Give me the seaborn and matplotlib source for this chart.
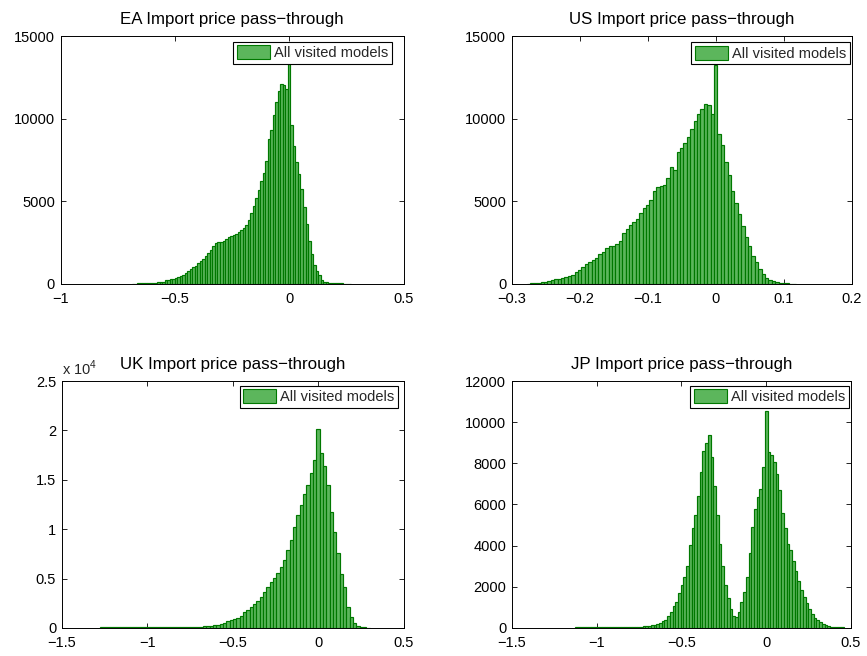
import numpy as np
import pandas as pd
import matplotlib
matplotlib.use("Agg")
import matplotlib.pyplot as plt
import seaborn as sns
from matplotlib.patches import Patch
from matplotlib.ticker import FuncFormatter

# ---------------- data (histogram bin counts) ----------------
titles = ["EA Import price pass\u2212through", "US Import price pass\u2212through",
          "UK Import price pass\u2212through", "JP Import price pass\u2212through"]
legend_label = "All visited models"

ea_first, ea_width = -0.682, 0.011
ea_counts = [20, 25, 30, 35, 40, 45, 50, 55, 65, 75,
             95, 115, 150, 220, 250, 280, 310, 340, 420, 480,
             560, 640, 760, 880, 1000, 1100, 1250, 1380, 1500, 1700,
             1900, 2060, 2300, 2460, 2520, 2540, 2600, 2750, 2870, 2920,
             2980, 3050, 3170, 3250, 3370, 3550, 3900, 4300, 4700, 5200,
             5700, 6200, 6700, 7450, 8800, 9300, 10200, 11000, 11700, 12100,
             12050, 11800,
             13300,
             9600, 8350, 7400, 6650, 5750, 4650, 3650, 2600, 1800, 1150,
             780, 540, 260, 140, 90, 70, 55, 45, 40, 35,
             30, 25, 20, 15]

us_first, us_width = -0.275, 0.005
us_counts = [20, 30, 40, 70, 110, 150, 210, 270, 300, 320,
             380, 440, 480, 560, 700, 850, 1050, 1200, 1330, 1480,
             1600, 1800, 1950, 2200, 2280, 2270, 2400, 2600, 3100, 3300,
             3550, 3750, 3950, 4300, 4600, 4800, 5050, 5600, 5850, 5900,
             6000, 6400, 7100, 6900, 8000, 8250, 8550, 8900, 9400, 9850,
             10300, 10600, 10900, 10800, 10300,
             13250,
             9100, 8400, 7400, 6600, 5650, 4900, 4250, 3500, 2850, 2300,
             1700, 1300, 900, 620, 380, 270, 170, 100, 60, 40,
             30, 25, 20]

uk_first, uk_width = -1.2675, 0.0195
uk_counts = [50, 50, 55, 55, 55, 60, 60, 60, 60, 65,
             65, 65, 65, 70, 70, 70, 70, 75, 75, 75,
             80, 80, 85, 85, 90, 95, 100, 110, 120, 130,
             145, 165, 195, 230, 280, 340, 420, 540, 660, 800,
             920, 1060, 1250, 1600, 1800, 2100, 2380, 2700, 3100, 3600,
             4150, 4650, 5100, 5600, 6200, 6900, 7850,
             8900, 10200, 11400, 12450, 13600, 14450, 15650, 17000,
             20100,
             17700, 16400, 14450, 11750, 9750, 7550, 5500, 4150, 2150, 1150,
             470, 200, 90, 50, 40]

jp_first, jp_width = -1.12, 0.016
jp_counts = [25, 25, 25, 25, 25, 25, 25, 25, 25, 25,
             25, 25, 25, 25, 30, 30, 30, 30, 30, 30,
             35, 40, 45, 50, 60, 75, 90, 110, 130, 150,
             180, 250, 320, 400, 600, 800, 1050, 1280, 1700, 2100,
             2500, 3000, 4030, 4850, 5500, 6400, 7600, 8600, 9000, 9380,
             8300, 6900, 5500, 4100, 3000, 2100, 1440, 900, 600, 520,
             800, 1250, 1750, 2500, 3650, 4900, 5800, 6350, 6750, 7800,
             10550,
             8550, 8400, 8050, 7500, 6700, 5600, 4850, 4100, 3800, 3250,
             2750, 2300, 1870, 1500, 1230, 910, 690, 500, 380, 280,
             190, 130, 90, 65, 45, 35, 30, 25]

ea_xticks = [-1, -0.5, 0, 0.5]
us_xticks = [-0.3, -0.2, -0.1, 0, 0.1, 0.2]
uk_xticks = [-1.5, -1, -0.5, 0, 0.5]
jp_xticks = [-1.5, -1, -0.5, 0, 0.5]
ea_yticks = [0, 5000, 10000, 15000]
us_yticks = [0, 5000, 10000, 15000]
uk_yticks = [0, 5000, 10000, 15000, 20000, 25000]
jp_yticks = [0, 2000, 4000, 6000, 8000, 10000, 12000]

# ---------------- style ----------------
sns.set_theme(style="white")
plt.rcParams['font.family'] = ['Liberation Sans', 'DejaVu Sans']
plt.rcParams['mathtext.fontset'] = 'custom'
plt.rcParams['mathtext.rm'] = 'Liberation Sans'
plt.rcParams['axes.unicode_minus'] = True

FACE = '#5cb65c'
EDGE = '#007800'
FS = 10.5
TFS = 12.2

fig = plt.figure(figsize=(8.67, 6.56), dpi=100)

panels = [
    dict(rect=[0.0698, 0.5671, 0.3956, 0.3780], first=ea_first, width=ea_width, counts=ea_counts,
         xlim=(-1, 0.5), ylim=(0, 15000), xt=ea_xticks, yt=ea_yticks, leg=(0.967, 0.977), scale=1),
    dict(rect=[0.5902, 0.5671, 0.3922, 0.3780], first=us_first, width=us_width, counts=us_counts,
         xlim=(-0.3, 0.2), ylim=(0, 15000), xt=us_xticks, yt=us_yticks, leg=(0.995, 0.974), scale=1),
    dict(rect=[0.0712, 0.0427, 0.3942, 0.3765], first=uk_first, width=uk_width, counts=uk_counts,
         xlim=(-1.5, 0.5), ylim=(0, 25000), xt=uk_xticks, yt=uk_yticks, leg=(0.985, 0.981), scale=1e4),
    dict(rect=[0.5902, 0.0427, 0.3914, 0.3765], first=jp_first, width=jp_width, counts=jp_counts,
         xlim=(-1.5, 0.5), ylim=(0, 12000), xt=jp_xticks, yt=jp_yticks, leg=(0.995, 0.981), scale=1),
]


def fmt(v, p=None):
    v = round(v, 6) + 0.0
    return ('%g' % v).replace('-', '\u2212')


for title, pnl in zip(titles, panels):
    ax = fig.add_axes(pnl['rect'])
    counts = [float(c) for c in pnl['counts']]
    n = len(counts)
    centers = [pnl['first'] + pnl['width'] * i for i in range(n)]
    edges = [pnl['first'] - pnl['width'] / 2 + pnl['width'] * i for i in range(n + 1)]
    df = pd.DataFrame({'center': centers, 'count': counts})
    sns.histplot(data=df, x='center', weights='count', bins=edges, ax=ax,
                 color=FACE, edgecolor=EDGE, linewidth=0.85, alpha=1)
    ax.set_xlim(*pnl['xlim'])
    ax.set_ylim(*pnl['ylim'])
    ax.set_xticks(pnl['xt'])
    ax.set_yticks(pnl['yt'])
    ax.xaxis.set_major_formatter(FuncFormatter(fmt))
    sc = pnl['scale']
    ax.yaxis.set_major_formatter(FuncFormatter(lambda v, p, sc=sc: fmt(v / sc)))
    ax.set_xlabel('')
    ax.set_ylabel('')
    ax.tick_params(direction='in', top=True, right=True, bottom=True, left=True,
                   length=3.5, width=0.6, colors='black', labelsize=FS, pad=4)
    ax.tick_params(axis='x', pad=5.5)
    for s in ax.spines.values():
        s.set_color('black')
        s.set_linewidth(0.7)
        s.set_visible(True)
    ax.set_title(title, fontsize=TFS, pad=9, color='black')
    handle = Patch(facecolor=FACE, edgecolor=EDGE, linewidth=0.8, label=legend_label)
    leg = ax.legend(handles=[handle], loc='upper right', bbox_to_anchor=pnl['leg'],
                    borderaxespad=0, fontsize=FS, frameon=True, fancybox=False,
                    framealpha=1, borderpad=0.25, handlelength=2.26, handleheight=1.05,
                    handletextpad=0.3)
    leg.get_frame().set_edgecolor('black')
    leg.get_frame().set_linewidth(0.8)
    if sc != 1:
        ax.text(0, 1.024, r'x 10$^{\mathregular{4}}$', transform=ax.transAxes,
                ha='left', va='baseline', fontsize=FS)

fig.savefig('out.png', dpi=100, facecolor='white')
